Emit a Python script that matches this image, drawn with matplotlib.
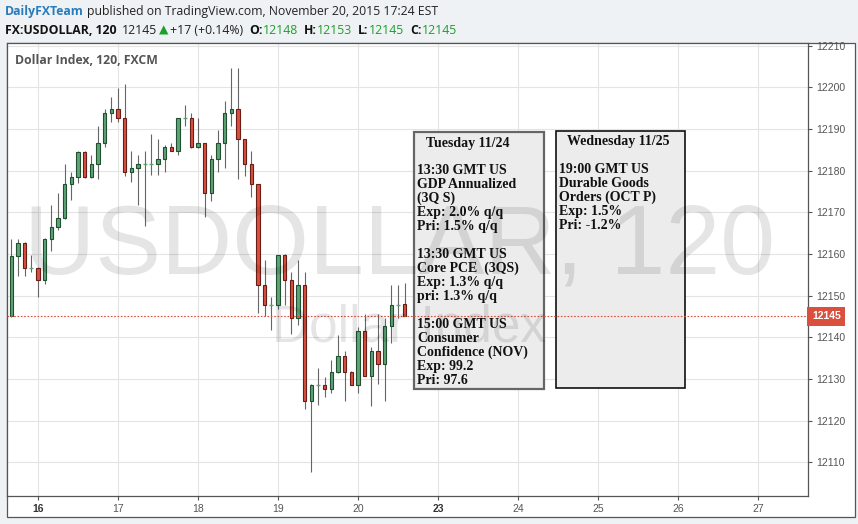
import matplotlib
matplotlib.use('Agg')
import matplotlib.pyplot as plt
from matplotlib.patches import Rectangle
from matplotlib.transforms import blended_transform_factory, offset_copy

# ---------------- data ----------------
opens = [12145.0, 12159.6, 12162.6, 12156.6, 12156.6, 12153.7, 12163.5, 12166.5, 12168.6, 12176.7,
         12178.5, 12184.5, 12178.5, 12181.6, 12186.6, 12193.8, 12194.7, 12192.6, 12179.6, 12180.6,
         12181.6, 12181.6, 12181.6, 12182.7, 12185.6, 12184.7, 12192.6, 12192.6, 12185.6, 12186.6,
         12174.6, 12182.7, 12186.6, 12193.8, 12194.7, 12187.5, 12181.5, 12176.7, 12152.6, 12147.8,
         12147.8, 12159.8, 12153.7, 12144.6, 12152.6, 12124.7, 12128.6, 12128.6, 12127.5, 12131.7,
         12135.5, 12131.7, 12128.6, 12141.5, 12130.7, 12136.7, 12133.5, 12142.7, 12147.8, 12148.0]
highs = [12163.6, 12163.6, 12162.8, 12159.8, 12156.8, 12163.7, 12171.8, 12174.6, 12181.6, 12179.7,
         12184.7, 12184.6, 12183.8, 12190.7, 12194.7, 12197.7, 12199.9, 12200.8, 12184.7, 12183.8,
         12184.7, 12188.8, 12187.5, 12186.1, 12186.6, 12192.6, 12195.8, 12193.8, 12192.6, 12186.7,
         12183.8, 12189.8, 12196.7, 12204.6, 12204.6, 12187.6, 12184.7, 12176.8, 12158.5, 12149.7,
         12159.8, 12159.9, 12155.7, 12158.5, 12155.6, 12128.7, 12132.6, 12130.5, 12134.5, 12140.5,
         12136.7, 12131.8, 12142.5, 12145.5, 12137.7, 12145.5, 12144.6, 12152.6, 12152.6, 12153.0]
lows = [12144.8, 12154.8, 12154.8, 12155.7, 12149.7, 12152.7, 12160.8, 12165.8, 12168.4, 12172.9,
        12177.0, 12178.3, 12178.3, 12177.9, 12185.7, 12191.7, 12191.7, 12178.8, 12177.3, 12171.8,
        12166.7, 12179.0, 12179.0, 12179.7, 12184.6, 12183.8, 12190.7, 12185.5, 12185.5, 12168.8,
        12172.8, 12179.7, 12180.7, 12190.7, 12177.9, 12178.7, 12173.7, 12145.8, 12145.0, 12141.8,
        12146.7, 12147.8, 12140.7, 12142.9, 12122.7, 12107.7, 12123.7, 12125.7, 12126.7, 12131.5,
        12124.8, 12128.5, 12126.7, 12130.6, 12123.6, 12128.7, 12124.8, 12138.7, 12144.6, 12145.0]
closes = [12159.6, 12162.6, 12156.6, 12156.6, 12153.7, 12163.5, 12166.5, 12168.6, 12176.7, 12178.5,
          12184.5, 12178.5, 12181.6, 12186.6, 12193.8, 12194.7, 12192.6, 12179.6, 12180.6, 12181.6,
          12181.6, 12181.6, 12182.7, 12185.6, 12184.7, 12192.6, 12192.6, 12185.6, 12186.6, 12174.6,
          12182.7, 12186.6, 12193.8, 12194.7, 12187.5, 12181.5, 12176.7, 12152.6, 12147.8, 12147.8,
          12159.8, 12153.7, 12144.6, 12152.6, 12124.7, 12128.6, 12128.6, 12127.5, 12131.7, 12135.5,
          12131.7, 12128.6, 12141.5, 12130.7, 12136.7, 12133.5, 12142.7, 12147.8, 12147.8, 12145.0]
day_labels = ['16', '17', '18', '19', '20', '23', '24', '25', '26', '27']
bold_days = ['16', '23']
bars_per_day = 12
first_day_bar = 4
price_ticks = [12110, 12120, 12130, 12140, 12150, 12160, 12170, 12180, 12190, 12200, 12210]
last_price = 12145

tuesday_lines = ['13:30 GMT US', 'GDP Annualized', '(3Q S)', 'Exp: 2.0% q/q', 'Pri: 1.5% q/q', '',
                 '13:30 GMT US', 'Core PCE  (3QS)', 'Exp: 1.3% q/q', 'pri: 1.3% q/q', '',
                 '15:00 GMT US', 'Consumer', 'Confidence (NOV)', 'Exp: 99.2', 'Pri: 97.6']
wednesday_lines = ['19:00 GMT US', 'Durable Goods', 'Orders (OCT P)', 'Exp: 1.5%', 'Pri: -1.2%']

# ---------------- figure ----------------
W, H = 858, 524
fig = plt.figure(figsize=(W / 100, H / 100), dpi=100, facecolor='#eef2f5')

def fx(x):
    return x / W

def fy(y):
    return 1 - y / H

# outer frame (white panel)
fig.add_artist(Rectangle((fx(6.5), fy(517)), fx(855) - fx(6.5), fy(43) - fy(517),
                         transform=fig.transFigure, fc='white', ec='#555555', lw=0.9, zorder=0))

ax = fig.add_axes([fx(6.5), fy(496), fx(808) - fx(6.5), fy(43) - fy(496)])
ax.set_facecolor('white')
ax.set_xlim(-0.72, 119.5)
ax.set_ylim(12101.9, 12210.6)

GREEN_F, GREEN_E = '#5fa376', '#1f5130'
RED_F, RED_E = '#d9503f', '#6b1d15'
WICK = '#666666'

n = len(opens)
for i in range(n):
    o, h, l, c = opens[i], highs[i], lows[i], closes[i]
    up = c >= o
    fc, ec = (GREEN_F, GREEN_E) if up else (RED_F, RED_E)
    ax.vlines(i, l, h, color=WICK, lw=0.8, zorder=3)
    if abs(c - o) < 0.3:
        ax.hlines(o, i - 0.28, i + 0.28, color=GREEN_F, lw=1.0, zorder=4)
    else:
        ax.add_patch(Rectangle((i - 0.26, min(o, c)), 0.52, abs(c - o),
                               fc=fc, ec=ec, lw=0.8, zorder=4))

# grid / ticks
day_pos = [first_day_bar + bars_per_day * k for k in range(len(day_labels))]
ax.set_xticks(day_pos)
ax.set_xticklabels(day_labels)
ax.set_yticks(price_ticks)
ax.set_yticklabels([str(p) for p in price_ticks])
ax.yaxis.tick_right()
ax.grid(True, color='#e4e4e4', lw=0.8, zorder=0)
ax.set_axisbelow(True)
ax.tick_params(axis='both', colors='#555555', labelsize=7.5, length=3, width=0.8, pad=3)
for lab in ax.get_xticklabels() + ax.get_yticklabels():
    lab.set_family('Liberation Sans')
for lab in ax.get_xticklabels():
    if lab.get_text() in bold_days:
        lab.set_fontweight('bold')
        lab.set_color('#333333')
for s in ax.spines.values():
    s.set_color('#555555')
    s.set_linewidth(0.9)

# watermark
fig.text(fx(400), fy(273), 'USDOLLAR, 120', ha='center', va='baseline', fontsize=71,
         family='Liberation Sans', color='black', alpha=0.1, zorder=2.5)
fig.text(fx(409), fy(342), 'Dollar Index', ha='center', va='baseline', fontsize=37,
         family='Liberation Sans', color='black', alpha=0.1, zorder=2.5)

# event boxes (in data coords)
box1 = Rectangle((60.4, 12127.5), 79.9 - 60.4, 12189.3 - 12127.5, fc='#ececec', ec='#666666', lw=1.6, zorder=2)
box2 = Rectangle((81.7, 12127.8), 101.1 - 81.7, 12189.5 - 12127.8, fc='#ececec', ec='#111111', lw=1.2, zorder=2)
ax.add_patch(box1)
ax.add_patch(box2)

serif = dict(family='Liberation Serif', fontweight='bold', fontsize=10, color='#111111', va='baseline', zorder=6)
fig.text(fx(426), fy(146.5), 'Tuesday 11/24', **serif)
for k, line in enumerate(tuesday_lines):
    if line:
        fig.text(fx(417), fy(174.3 + 14.0 * k), line, **serif)
fig.text(fx(567), fy(145), 'Wednesday 11/25', **serif)
for k, line in enumerate(wednesday_lines):
    fig.text(fx(559), fy(173.3 + 14.0 * k), line, **serif)

# last price line and label
ax.axhline(last_price, color='#d9503f', lw=0.8, ls=(0, (1.5, 1.5)), zorder=5)
lbl_tr = offset_copy(blended_transform_factory(ax.transAxes, ax.transData), fig=fig, x=4, y=0, units='dots')
ax.text(1.0, last_price, '12145', transform=lbl_tr,
        ha='left', va='center', fontsize=7.5, family='Liberation Sans', fontweight='bold', color='white',
        bbox=dict(boxstyle='square,pad=0.45', fc='#d9503f', ec='none'), zorder=7, clip_on=False)

# chart title
fig.text(fx(15), fy(64), 'Dollar Index, 120, FXCM', family='Open Sans', fontweight='bold',
         fontsize=8.8, color='#555555', va='baseline')

# header lines
fig.canvas.draw()
renderer = fig.canvas.get_renderer()

def seq(pieces, x, y):
    for txt, kw, gap in pieces:
        t = fig.text(fx(x), fy(y), txt, va='baseline', **kw)
        bb = t.get_window_extent(renderer)
        x += bb.width + gap

FS = 8.8
norm = dict(family='Open Sans', fontsize=FS, color='#222222')
bold = dict(family='Open Sans', fontsize=FS, color='#111111', fontweight='bold')
grn = dict(family='Open Sans', fontsize=FS, color='#1e9e2a')
seq([('DailyFXTeam', dict(family='Open Sans', fontsize=FS, color='#2a7bb8', fontweight='bold'), 3),
     ('published on TradingView.com, November 20, 2015 17:24 EST', norm, 0)], 5, 15)
seq([('FX:USDOLLAR, 120', bold, 5),
     ('12145', norm, 2),
     ('\u25B2', dict(family='DejaVu Sans', fontsize=FS, color='#1e9e2a'), 2),
     ('+17 (+0.14%)', norm, 6),
     ('O:', bold, 0), ('12148', grn, 6),
     ('H:', bold, 0), ('12153', grn, 6),
     ('L:', bold, 0), ('12145', grn, 6),
     ('C:', bold, 0), ('12145', grn, 0)], 5, 34)

fig.savefig('out.png', dpi=100, facecolor=fig.get_facecolor())
